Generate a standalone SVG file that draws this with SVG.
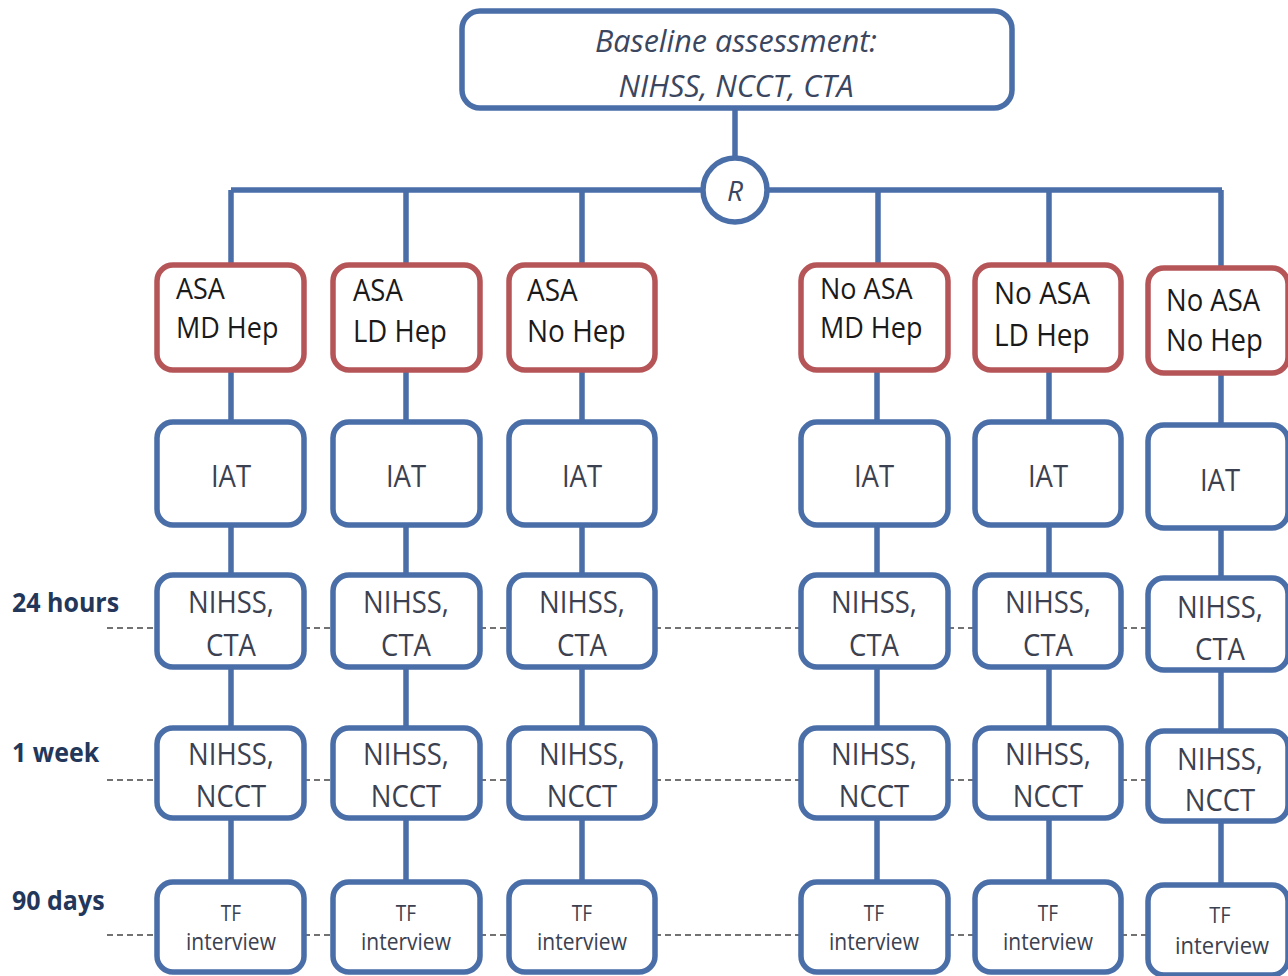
<svg xmlns="http://www.w3.org/2000/svg" width="1288" height="976" viewBox="0 0 1288 976">
<style>
.b{fill:#fff;stroke:#4a6ea8;stroke-width:5.5}
.r{fill:#fff;stroke:#b65558;stroke-width:5.5}
.ln{stroke:#4a6ea8;stroke-width:5.5;fill:none}
.d{stroke:#444;stroke-width:1.3;stroke-dasharray:6 4;fill:none}
.t,.rt,.lb,.tf{transform-box:fill-box;transform-origin:50% 100%;transform:scaleY(1.1)}
.t{font-family:"Open Sans","Liberation Sans",sans-serif;fill:#3b4150;text-anchor:middle;font-size:27.5px}
.tf{font-family:"Open Sans","Liberation Sans",sans-serif;fill:#3b4150;text-anchor:middle}
.rt{font-family:"Open Sans","Liberation Sans",sans-serif;fill:#1a1a1a}
.it{font-family:"Open Sans","Liberation Sans",sans-serif;font-style:italic;fill:#3b4660;text-anchor:middle}
.lb{font-family:"Open Sans","Liberation Sans",sans-serif;font-weight:bold;fill:#23375a;font-size:25px}
</style>
<rect width="1288" height="976" fill="#fff"/>
<g id="connectors">
<line class="ln" x1="735" y1="108" x2="735" y2="158"/>
<line class="ln" x1="231" y1="190" x2="703" y2="190"/>
<line class="ln" x1="767" y1="190" x2="1222" y2="190"/>
<path class="ln" d="M231 190V265M406 190V265M582 190V265M878 190V265M1049 190V265M1221 190V268"/>
<path class="ln" d="M231 370V422M406 370V422M582 370V422M877 370V422M1049 370V422M1221 373V425"/>
<path class="ln" d="M231 525V575M406 525V575M582 525V575M877 525V575M1049 525V575M1221 528V578"/>
<path class="ln" d="M231 667V728M406 667V728M582 667V728M877 667V728M1049 667V728M1221 670V731"/>
<path class="ln" d="M231 818V882M406 818V882M582 818V882M877 818V882M1049 818V882M1221 821V885"/>
<path class="d" d="M107 628H157M304 628H333M480 628H509M655 628H801M948 628H975M1121 628H1148"/>
<path class="d" d="M107 780H157M304 780H333M480 780H509M655 780H801M948 780H975M1121 780H1148"/>
<path class="d" d="M107 935H157M304 935H333M480 935H509M655 935H801M948 935H975M1121 935H1148"/>
</g>
<g id="baseline">
<rect class="b" x="462" y="11" width="550" height="97" rx="18"/>
<text class="it" x="736" y="52" font-size="30.5">Baseline assessment:</text>
<text class="it" x="736" y="97" font-size="30.5">NIHSS, NCCT, CTA</text>
</g>
<g id="randomisation">
<circle class="b" cx="735" cy="190" r="32"/>
<text class="it" x="735" y="201" font-size="28">R</text>
</g>
<g id="labels">
<text class="lb" x="12" y="613">24 hours</text>
<text class="lb" x="12" y="763">1 week</text>
<text class="lb" x="12" y="911">90 days</text>
</g>
<g id="arm1">
<rect class="r" x="157" y="265" width="147" height="105" rx="16"/>
<text class="rt" x="176" y="300" font-size="27">ASA</text>
<text class="rt" x="176" y="339" font-size="27">MD Hep</text>
</g>
<g id="arm2">
<rect class="r" x="333" y="265" width="147" height="105" rx="16"/>
<text class="rt" x="353" y="302" font-size="27.5">ASA</text>
<text class="rt" x="353" y="343" font-size="27.5">LD Hep</text>
</g>
<g id="arm3">
<rect class="r" x="509" y="265" width="146" height="105" rx="16"/>
<text class="rt" x="527" y="302" font-size="28">ASA</text>
<text class="rt" x="527" y="343" font-size="28">No Hep</text>
</g>
<g id="arm4">
<rect class="r" x="801" y="265" width="147" height="105" rx="16"/>
<text class="rt" x="820" y="300" font-size="27">No ASA</text>
<text class="rt" x="820" y="339" font-size="27">MD Hep</text>
</g>
<g id="arm5">
<rect class="r" x="975" y="265" width="146" height="105" rx="16"/>
<text class="rt" x="994" y="305" font-size="28">No ASA</text>
<text class="rt" x="994" y="347" font-size="28">LD Hep</text>
</g>
<g id="arm6">
<rect class="r" x="1148" y="268" width="140" height="105" rx="16"/>
<text class="rt" x="1166" y="312" font-size="27.5">No ASA</text>
<text class="rt" x="1166" y="352" font-size="27.5">No Hep</text>
</g>
<g id="iat1"><rect class="b" x="157" y="422" width="147" height="103" rx="16"/><text class="t" x="231" y="488">IAT</text></g>
<g id="iat2"><rect class="b" x="333" y="422" width="147" height="103" rx="16"/><text class="t" x="406" y="488">IAT</text></g>
<g id="iat3"><rect class="b" x="509" y="422" width="146" height="103" rx="16"/><text class="t" x="582" y="488">IAT</text></g>
<g id="iat4"><rect class="b" x="801" y="422" width="147" height="103" rx="16"/><text class="t" x="874" y="488">IAT</text></g>
<g id="iat5"><rect class="b" x="975" y="422" width="146" height="103" rx="16"/><text class="t" x="1048" y="488">IAT</text></g>
<g id="iat6"><rect class="b" x="1148" y="425" width="140" height="103" rx="16"/><text class="t" x="1220" y="492" font-size="28">IAT</text></g>
<g id="h24_1"><rect class="b" x="157" y="575" width="147" height="92" rx="16"/><text class="t" x="231" y="614">NIHSS,</text><text class="t" x="231" y="657">CTA</text></g>
<g id="h24_2"><rect class="b" x="333" y="575" width="147" height="92" rx="16"/><text class="t" x="406" y="614">NIHSS,</text><text class="t" x="406" y="657">CTA</text></g>
<g id="h24_3"><rect class="b" x="509" y="575" width="146" height="92" rx="16"/><text class="t" x="582" y="614">NIHSS,</text><text class="t" x="582" y="657">CTA</text></g>
<g id="h24_4"><rect class="b" x="801" y="575" width="147" height="92" rx="16"/><text class="t" x="874" y="614">NIHSS,</text><text class="t" x="874" y="657">CTA</text></g>
<g id="h24_5"><rect class="b" x="975" y="575" width="146" height="92" rx="16"/><text class="t" x="1048" y="614">NIHSS,</text><text class="t" x="1048" y="657">CTA</text></g>
<g id="h24_6"><rect class="b" x="1148" y="578" width="140" height="92" rx="16"/><text class="t" x="1220" y="619" font-size="28">NIHSS,</text><text class="t" x="1220" y="661" font-size="28">CTA</text></g>
<g id="w1_1"><rect class="b" x="157" y="728" width="147" height="90" rx="16"/><text class="t" x="231" y="766">NIHSS,</text><text class="t" x="231" y="808">NCCT</text></g>
<g id="w1_2"><rect class="b" x="333" y="728" width="147" height="90" rx="16"/><text class="t" x="406" y="766">NIHSS,</text><text class="t" x="406" y="808">NCCT</text></g>
<g id="w1_3"><rect class="b" x="509" y="728" width="146" height="90" rx="16"/><text class="t" x="582" y="766">NIHSS,</text><text class="t" x="582" y="808">NCCT</text></g>
<g id="w1_4"><rect class="b" x="801" y="728" width="147" height="90" rx="16"/><text class="t" x="874" y="766">NIHSS,</text><text class="t" x="874" y="808">NCCT</text></g>
<g id="w1_5"><rect class="b" x="975" y="728" width="146" height="90" rx="16"/><text class="t" x="1048" y="766">NIHSS,</text><text class="t" x="1048" y="808">NCCT</text></g>
<g id="w1_6"><rect class="b" x="1148" y="731" width="140" height="90" rx="16"/><text class="t" x="1220" y="771" font-size="28">NIHSS,</text><text class="t" x="1220" y="812" font-size="28">NCCT</text></g>
<g id="d90_1"><rect class="b" x="157" y="882" width="147" height="90" rx="16"/><text class="tf" x="231" y="922" font-size="19">TF</text><text class="tf" x="231" y="951" font-size="21">interview</text></g>
<g id="d90_2"><rect class="b" x="333" y="882" width="147" height="90" rx="16"/><text class="tf" x="406" y="922" font-size="19">TF</text><text class="tf" x="406" y="951" font-size="21">interview</text></g>
<g id="d90_3"><rect class="b" x="509" y="882" width="146" height="90" rx="16"/><text class="tf" x="582" y="922" font-size="19">TF</text><text class="tf" x="582" y="951" font-size="21">interview</text></g>
<g id="d90_4"><rect class="b" x="801" y="882" width="147" height="90" rx="16"/><text class="tf" x="874" y="922" font-size="19">TF</text><text class="tf" x="874" y="951" font-size="21">interview</text></g>
<g id="d90_5"><rect class="b" x="975" y="882" width="146" height="90" rx="16"/><text class="tf" x="1048" y="922" font-size="19">TF</text><text class="tf" x="1048" y="951" font-size="21">interview</text></g>
<g id="d90_6"><rect class="b" x="1148" y="885" width="140" height="90" rx="16"/><text class="tf" x="1220" y="924" font-size="20">TF</text><text class="tf" x="1222" y="955" font-size="22">interview</text></g>
</svg>
